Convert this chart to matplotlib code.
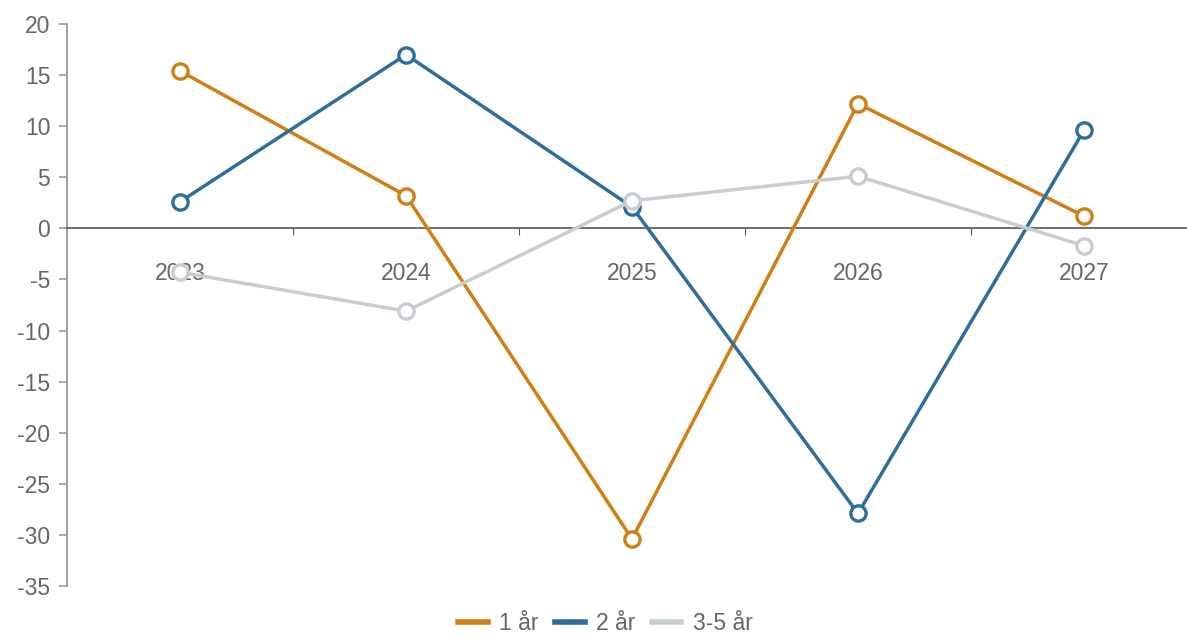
import matplotlib.pyplot as plt
from matplotlib.lines import Line2D

years = ['2023', '2024', '2025', '2026', '2027']
ar_1 = [15.4, 3.2, -30.4, 12.2, 1.2]
ar_2 = [2.6, 17.0, 2.1, -27.9, 9.6]
ar_3_5 = [-4.3, -8.1, 2.7, 5.1, -1.7]

series = [('1 år', ar_1, '#d07f14'),
          ('2 år', ar_2, '#2f6e9b'),
          ('3-5 år', ar_3_5, '#c6ced1')]

plt.rcParams['font.family'] = ['Liberation Sans', 'DejaVu Sans']
plt.rcParams['axes.unicode_minus'] = False

W, H = 1187, 642
fig = plt.figure(figsize=(W / 100, H / 100), dpi=100)
left, right, top, bottom = 67, 1187, 24, 586
ax = fig.add_axes([left / W, 1 - bottom / H, (right - left) / W, (bottom - top) / H])

x = list(range(len(years)))
for name, vals, col in series:
    ax.plot(x, vals, color=col, lw=2.5, marker='o', ms=11, mfc='white',
            mec=col, mew=2.4, zorder=3)

ax.set_ylim(-35, 20)
ax.set_yticks(range(-35, 21, 5))
ax.set_xlim(-0.5, (right - 180) / 226)

for s in ['top', 'right']:
    ax.spines[s].set_visible(False)
ax.spines['left'].set_color('#9a9a9a')
ax.spines['left'].set_linewidth(1.3)
ax.spines['bottom'].set_position(('data', 0))
ax.spines['bottom'].set_color('#555555')
ax.spines['bottom'].set_linewidth(1.2)

fs = 16.5
ax.set_xticks([0.5, 1.5, 2.5, 3.5])
ax.set_xticklabels([])
ax.set_xticks(x, minor=True)
ax.set_xticklabels(years, minor=True)
ax.tick_params(axis='x', which='major', direction='out', length=5, color='#555555')
ax.tick_params(axis='x', which='minor', length=0, pad=24, labelsize=fs, labelcolor='#666666')
ax.tick_params(axis='y', length=6, color='#9a9a9a', width=1.2, pad=6,
               labelsize=fs, labelcolor='#666666')

handles = [Line2D([], [], color=c, lw=4) for _, _, c in series]
fig.legend(handles, [n for n, _, _ in series], loc='lower center', ncol=3,
           bbox_to_anchor=(0.51, -0.022), frameon=False, handlelength=1.3,
           handletextpad=0.5, columnspacing=0.7, fontsize=fs, labelcolor='#666666')

fig.savefig('out.png', dpi=100)
